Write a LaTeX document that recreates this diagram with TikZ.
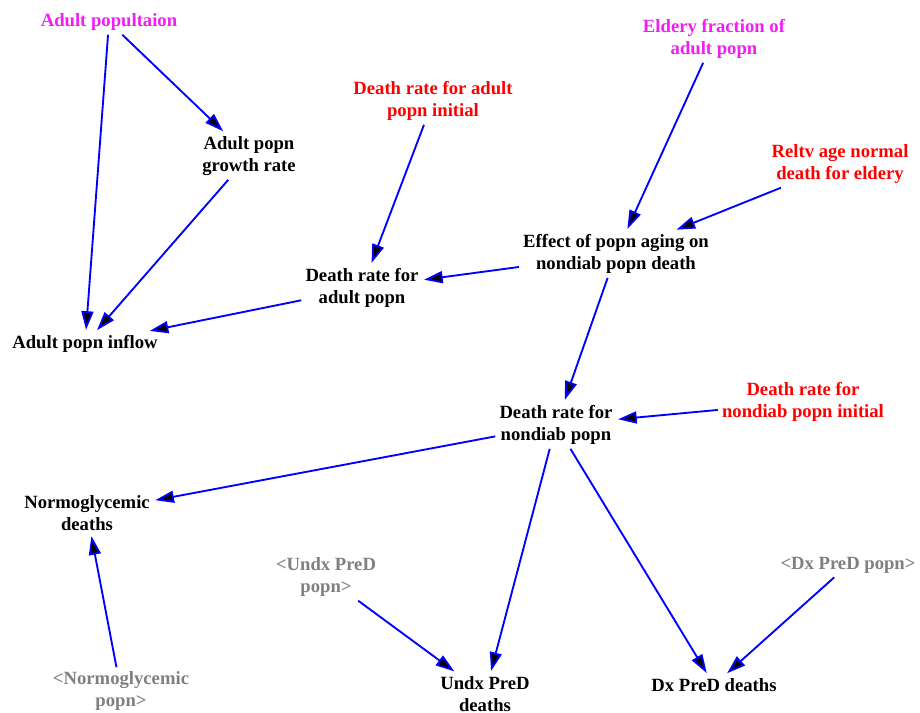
\documentclass[tikz,border=0pt]{standalone}
\usepackage{fontspec}
\setmainfont{Liberation Serif}
\usetikzlibrary{arrows.meta}
\definecolor{vmag}{RGB}{240,30,240}
\definecolor{vred}{RGB}{255,0,0}
\definecolor{vgray}{RGB}{128,128,128}
\definecolor{vblue}{RGB}{0,0,255}
\tikzset{>={Triangle[length=14pt,width=9pt]},shorten >=1pt}
\tikzset{
    var/.style={font=\bfseries\fontsize{14}{16.5}\selectfont,align=center,inner sep=3pt},
    stock/.style={var,text=vmag},
    const/.style={var,text=vred},
    shadow/.style={var,text=vgray},
    link/.style={->,draw=vblue,line width=1.4pt}
}

\begin{document}
\begin{tikzpicture}[x=0.75pt,y=0.75pt]
                \useasboundingbox (0,0) rectangle (920,-713);
                \node[stock]  (pop)      at (109,-22)  {Adult popultaion};
                \node[var]    (growth)   at (249,-156) {Adult popn\\growth rate};
                \node[var]    (inflow)   at (85,-344)  {Adult popn inflow};
                \node[const]  (drinit)   at (433,-101) {Death rate for adult\\popn initial};
                \node[var]    (dradult)  at (362,-288) {Death rate for\\adult popn};
                \node[stock]  (eldfrac)  at (714,-39)  {Eldery fraction of\\adult popn};
                \node[const]  (reltv)    at (840,-164) {Reltv age normal\\death for eldery};
                \node[var]    (effect)   at (616,-254) {Effect of popn aging on\\nondiab popn death};
                \node[var]    (drnon)    at (556,-425) {Death rate for\\nondiab popn};
                \node[const]  (drnoninit) at (803,-402) {Death rate for\\nondiab popn initial};
                \node[var]    (normdth)  at (87,-513)  {Normoglycemic\\deaths};
                \node[shadow] (normpop)  at (121,-691) {<Normoglycemic\\popn>};
                \node[shadow] (undxpop)  at (326,-577) {<Undx PreD\\popn>};
                \node[var]    (undxdth)  at (485,-694) {Undx PreD\\deaths};
                \node[shadow] (dxpop)    at (848,-565) {<Dx PreD popn>};
                \node[var]    (dxdth)    at (714,-685) {Dx PreD deaths};
                \path[link]
                    (pop)       edge (growth)
                    (pop)       edge (inflow)
                    (growth)    edge (inflow)
                    (dradult)   edge (inflow)
                    (drinit)    edge (dradult)
                    (effect)    edge (dradult)
                    (eldfrac)   edge (effect)
                    (reltv)     edge (effect)
                    (effect)    edge (drnon)
                    (drnoninit) edge (drnon)
                    (drnon)     edge (normdth)
                    (normpop)   edge (normdth)
                    (drnon)     edge (undxdth)
                    (undxpop)   edge (undxdth)
                    (drnon)     edge (dxdth)
                    (dxpop)     edge (dxdth)
                ;
            \end{tikzpicture}
\end{document}
